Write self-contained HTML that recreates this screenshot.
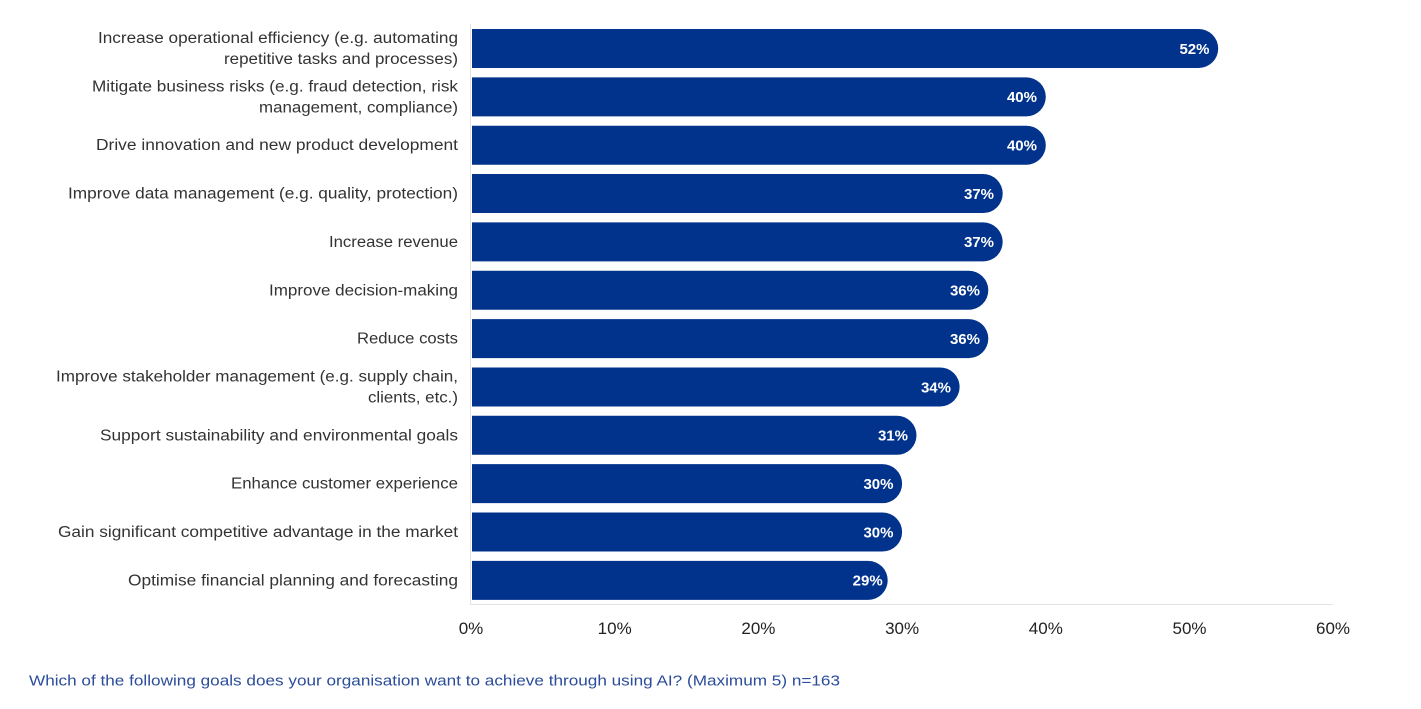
<!DOCTYPE html>
<html>
<head>
<meta charset="utf-8">
<style>
  html, body { margin: 0; padding: 0; background: #ffffff; }
  svg { display: block; }
  text { font-family: "Liberation Sans", "DejaVu Sans", sans-serif; }
  .lbl { font-size: 15.5px; fill: #333333; }
  .val { font-size: 15px; fill: #ffffff; font-weight: bold; }
  .tick { font-size: 17px; fill: #222222; }
  .foot { font-size: 15px; fill: #2b4c9b; }
</style>
</head>
<body>
<svg width="1421" height="709" viewBox="0 0 1421 709" xmlns="http://www.w3.org/2000/svg">
  <rect x="0" y="0" width="1421" height="709" fill="#ffffff"/>
  <!-- axes -->
  <line x1="470.5" y1="24" x2="470.5" y2="605" stroke="#e2e2e2" stroke-width="1"/>
  <line x1="470" y1="604.5" x2="1333" y2="604.5" stroke="#e2e2e2" stroke-width="1"/>

  <!-- bars -->
  <g fill="#02338c">
    <path d="M472,29 H1198.7 A19.5,19.5 0 0 1 1198.7,68 H472 Z"/>
    <path d="M472,77.35 H1026.3 A19.5,19.5 0 0 1 1026.3,116.35 H472 Z"/>
    <path d="M472,125.7 H1026.3 A19.5,19.5 0 0 1 1026.3,164.7 H472 Z"/>
    <path d="M472,174.05 H983.2 A19.5,19.5 0 0 1 983.2,213.05 H472 Z"/>
    <path d="M472,222.4 H983.2 A19.5,19.5 0 0 1 983.2,261.4 H472 Z"/>
    <path d="M472,270.75 H968.8 A19.5,19.5 0 0 1 968.8,309.75 H472 Z"/>
    <path d="M472,319.1 H968.8 A19.5,19.5 0 0 1 968.8,358.1 H472 Z"/>
    <path d="M472,367.45 H940.1 A19.5,19.5 0 0 1 940.1,406.45 H472 Z"/>
    <path d="M472,415.8 H897 A19.5,19.5 0 0 1 897,454.8 H472 Z"/>
    <path d="M472,464.15 H882.6 A19.5,19.5 0 0 1 882.6,503.15 H472 Z"/>
    <path d="M472,512.5 H882.6 A19.5,19.5 0 0 1 882.6,551.5 H472 Z"/>
    <path d="M472,560.85 H868.2 A19.5,19.5 0 0 1 868.2,599.85 H472 Z"/>
  </g>

  <!-- value labels -->
  <g class="val" text-anchor="end">
    <text x="1209.5" y="53.8">52%</text>
    <text x="1037" y="102.2">40%</text>
    <text x="1037" y="150.5">40%</text>
    <text x="994" y="198.9">37%</text>
    <text x="994" y="247.2">37%</text>
    <text x="980" y="295.6">36%</text>
    <text x="980" y="343.9">36%</text>
    <text x="951" y="392.3">34%</text>
    <text x="908" y="440.6">31%</text>
    <text x="893.5" y="489">30%</text>
    <text x="893.5" y="537.3">30%</text>
    <text x="882.7" y="585.7">29%</text>
  </g>

  <!-- category labels -->
  <g class="lbl" text-anchor="end">
    <text x="458" y="43" textLength="360" lengthAdjust="spacingAndGlyphs">Increase operational efficiency (e.g. automating</text>
    <text x="458" y="64" textLength="234" lengthAdjust="spacingAndGlyphs">repetitive tasks and processes)</text>
    <text x="458" y="91.3" textLength="366" lengthAdjust="spacingAndGlyphs">Mitigate business risks (e.g. fraud detection, risk</text>
    <text x="458" y="112.3" textLength="199" lengthAdjust="spacingAndGlyphs">management, compliance)</text>
    <text x="458" y="150.2" textLength="362" lengthAdjust="spacingAndGlyphs">Drive innovation and new product development</text>
    <text x="458" y="198.6" textLength="390" lengthAdjust="spacingAndGlyphs">Improve data management (e.g. quality, protection)</text>
    <text x="458" y="246.9" textLength="129" lengthAdjust="spacingAndGlyphs">Increase revenue</text>
    <text x="458" y="295.3" textLength="189" lengthAdjust="spacingAndGlyphs">Improve decision-making</text>
    <text x="458" y="343.6" textLength="101" lengthAdjust="spacingAndGlyphs">Reduce costs</text>
    <text x="458" y="381.5" textLength="402" lengthAdjust="spacingAndGlyphs">Improve stakeholder management (e.g. supply chain,</text>
    <text x="458" y="402.5" textLength="90" lengthAdjust="spacingAndGlyphs">clients, etc.)</text>
    <text x="458" y="440.3" textLength="358" lengthAdjust="spacingAndGlyphs">Support sustainability and environmental goals</text>
    <text x="458" y="488.7" textLength="227" lengthAdjust="spacingAndGlyphs">Enhance customer experience</text>
    <text x="458" y="537" textLength="400" lengthAdjust="spacingAndGlyphs">Gain significant competitive advantage in the market</text>
    <text x="458" y="585.4" textLength="330" lengthAdjust="spacingAndGlyphs">Optimise financial planning and forecasting</text>
  </g>

  <!-- x-axis ticks -->
  <g class="tick" text-anchor="middle">
    <text x="471" y="634">0%</text>
    <text x="614.7" y="634">10%</text>
    <text x="758.4" y="634">20%</text>
    <text x="902.1" y="634">30%</text>
    <text x="1045.8" y="634">40%</text>
    <text x="1189.5" y="634">50%</text>
    <text x="1333" y="634">60%</text>
  </g>

  <!-- footer -->
  <text class="foot" x="29" y="685.5" textLength="811" lengthAdjust="spacingAndGlyphs">Which of the following goals does your organisation want to achieve through using AI? (Maximum 5) n=163</text>
</svg>
</body>
</html>
